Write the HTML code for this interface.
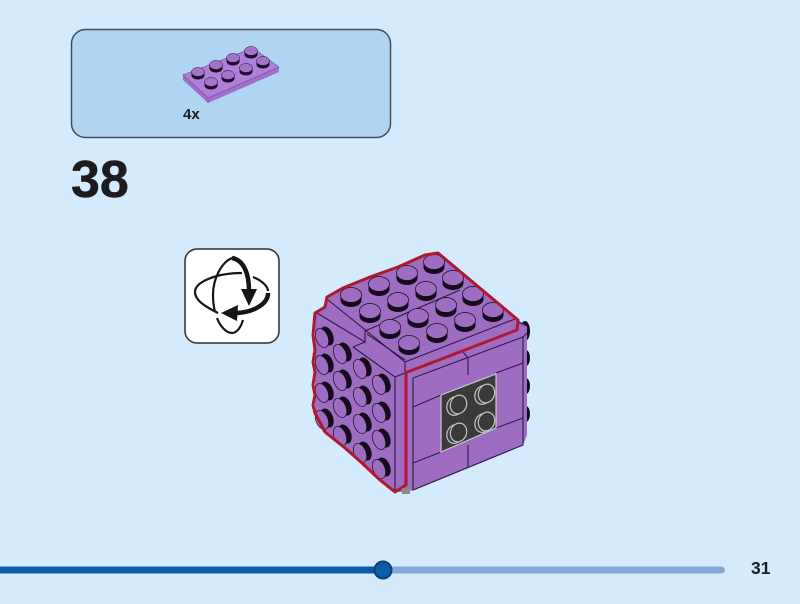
<!DOCTYPE html>
<html><head><meta charset="utf-8"><style>
html,body{margin:0;padding:0;background:#d3ebfc;width:800px;height:604px;overflow:hidden}
svg{display:block}
text{font-family:"Liberation Sans",sans-serif;font-weight:bold;fill:#1c1c1e}
</style></head><body>
<svg width="800" height="604" viewBox="0 0 800 604" xmlns="http://www.w3.org/2000/svg">
<defs>
<g id="t"><path d="M-10.500,0V5C-10.500,9.500 -5,12 0,12C5,12 10.500,9.500 10.500,5V0Z" fill="#150b1a"/><ellipse cx="0" cy="0" rx="10.500" ry="7.500" fill="#9e6cc0" stroke="#150b1a" stroke-width=".7"/></g>
<g id="l"><ellipse cx="3" cy="-1" rx="6" ry="10" transform="rotate(-22 3 -1)" fill="#150b1a"/><ellipse cx="-2" cy="1" rx="6" ry="10" transform="rotate(-22 -2 1)" fill="#9e6cc0" stroke="#150b1a" stroke-width=".7"/></g>
<g id="p"><path d="M-6.500,0V3.500C-6.500,6 -3,7.500 0,7.500C3,7.500 6.500,6 6.500,3.500V0Z" fill="#1e0c28"/><ellipse cx="0" cy="0" rx="6.500" ry="4.500" fill="#a474c8" stroke="#1e0c28" stroke-width=".5"/></g>
<g id="d" fill="none" stroke="#c4c4c4" stroke-width="1.200"><ellipse cx="-2" cy="1" rx="8" ry="9.500" transform="rotate(20 -2 1)"/><ellipse cx="1.500" cy="-.5" rx="8" ry="9.500" transform="rotate(20 1.500 -.5)" fill="#3a3a3a"/></g>
</defs>
<rect x="71.500" y="29.500" width="319" height="108" rx="14" fill="#b0d5f2" stroke="#3f4f5e" stroke-width="1.500"/>
<path d="M183,75L253,48L279,67V72L208,103L183,80Z" fill="#9f6fc9"/>
<path d="M183,75L253,48L279,67L208,98Z" fill="#b07fd8" stroke="#6d4a8c" stroke-width=".6"/>
<path d="M208,98V103" stroke="#6d4a8c" stroke-width=".6"/>
<use href="#p" x="198" y="72"/><use href="#p" x="216" y="65"/><use href="#p" x="233" y="58"/><use href="#p" x="251" y="51"/>
<use href="#p" x="211" y="82"/><use href="#p" x="228" y="75"/><use href="#p" x="246" y="68"/><use href="#p" x="263" y="61"/>
<text x="183" y="119" font-size="15">4x</text>
<text x="71" y="197" font-size="52" stroke="#1c1c1e" stroke-width=".5">38</text>

<rect x="185" y="249" width="94" height="94" rx="12" fill="#fff" stroke="#2c2c2c" stroke-width="1.500"/>
<g fill="none" stroke="#151515" stroke-linecap="butt">
<path d="M218,313C204,306 195,300 195,292C195,282 216,273 242,273" stroke-width="2.200"/>
<path d="M253,277C263,281 268,287 268,291" stroke-width="2.200"/>
<path d="M232,258C222,262 213,278 213,295C213,302 214,308 215,312" stroke-width="2.200"/>
<path d="M217,318C220,326 226,333 232,333C237,333 241,327 243,320" stroke-width="2.200"/>
<path d="M232,258C243,260 249,272 249,291" stroke-width="4.500"/>
<path d="M237,313C254,312 268,304 268,293" stroke-width="4.500"/>
</g>
<path d="M241,289L257,289L249,306Z" fill="#151515"/>
<path d="M221,313L238,305L237,321Z" fill="#151515"/>

<g fill="#150b1a"><ellipse cx="525" cy="331" rx="5" ry="10"/><ellipse cx="526" cy="358" rx="4" ry="8"/><ellipse cx="526" cy="386" rx="4" ry="8"/><ellipse cx="526" cy="414" rx="4" ry="8"/></g>
<path d="M315,313L325,307L327,297L343,288L370,277L398,267L425,255L438,253L518,320L527,326V435L523,445L413,490L405,492L395,492L380,480L362,463L345,448L325,432L315,413Z" fill="#9e6cc0"/>
<g fill="none" stroke="#2e1a46" stroke-width="1.100">
<path d="M328,300L405,362V373M405,362L515,319M365,331L460,290"/>
<path d="M317,313L365,342L353,347M365,330V342M367,334L405,360"/>
<path d="M353,347L395,377L405,373M395,377V490"/>
<path d="M413,378L523,337V445L413,490V378"/>
<path d="M413,407L441,395M496,373L523,363M413,463L441,452M496,428L523,418M463,352L468,358V375M468,445V467"/>
<path d="M518,322L527,326M523,337L527,333"/>
</g>
<use href="#t" x="434" y="262"/><use href="#t" x="453" y="278"/><use href="#t" x="473" y="294"/><use href="#t" x="493" y="310"/>
<use href="#t" x="407" y="273"/><use href="#t" x="426" y="289"/><use href="#t" x="446" y="305"/><use href="#t" x="465" y="320"/>
<use href="#t" x="379" y="284"/><use href="#t" x="398" y="300"/><use href="#t" x="418" y="316"/><use href="#t" x="437" y="331"/>
<use href="#t" x="351" y="295"/><use href="#t" x="370" y="311"/><use href="#t" x="390" y="327"/><use href="#t" x="409" y="343"/>
<use href="#l" x="324" y="337"/><use href="#l" x="342" y="353"/><use href="#l" x="362" y="368"/><use href="#l" x="381" y="384"/>
<use href="#l" x="324" y="364"/><use href="#l" x="342" y="380"/><use href="#l" x="362" y="396"/><use href="#l" x="381" y="412"/>
<use href="#l" x="324" y="392"/><use href="#l" x="342" y="407"/><use href="#l" x="362" y="423"/><use href="#l" x="381" y="439"/>
<use href="#l" x="324" y="419"/><use href="#l" x="342" y="435"/><use href="#l" x="362" y="452"/><use href="#l" x="381" y="468"/>
<path d="M441,395L496,374V428L441,452Z" fill="#3a3a3a" stroke="#c9c9c9" stroke-width="1.200"/>
<use href="#d" x="457" y="405"/><use href="#d" x="485" y="394"/><use href="#d" x="485" y="422"/><use href="#d" x="457" y="433"/>
<path d="M406,373V485L395,492L380,480L362,463L345,448L325,432L315,413L313,405L315,395L313,385L315,372L313,362L315,350L313,335L315,313L325,307L327,297L343,288L370,277L398,267L425,255L438,253L518,320L517,330L405,373" fill="none" stroke="#b01830" stroke-width="3" stroke-linejoin="round"/>
<rect x="402" y="488" width="8" height="6" fill="#8a8a8a"/>
<rect x="0" y="566.500" width="725" height="7" rx="3.500" fill="#86a7d8"/>
<rect x="0" y="566.500" width="383" height="7" fill="#0b5cab"/>
<circle cx="383" cy="570" r="8.500" fill="#0b5cab" stroke="#0d3f78" stroke-width="2"/>
<text x="751" y="574" font-size="17.500">31</text>
</svg>
</body></html>
